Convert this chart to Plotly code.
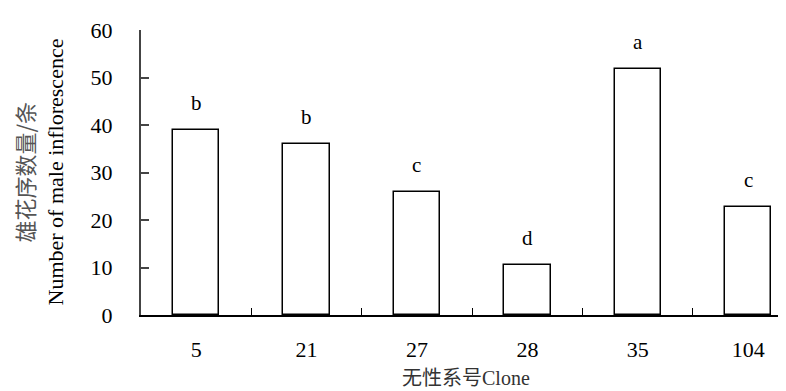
import plotly.graph_objects as go

clones = ["5", "21", "27", "28", "35", "104"]
counts = [39, 36.1, 25.8, 10.5, 51.8, 22.8]
letters = ["b", "b", "c", "d", "a", "c"]

serif = "Times New Roman"

fig = go.Figure()
fig.add_trace(go.Bar(
    x=clones, y=counts, width=0.42,
    marker=dict(color="white", line=dict(color="black", width=1.5)),
    showlegend=False, hoverinfo="x+y",
))

for i, (v, l) in enumerate(zip(counts, letters)):
    fig.add_annotation(x=i, y=v, text=l, showarrow=False, yshift=27,
                       font=dict(family=serif, size=21, color="black"))

fig.add_annotation(xref="paper", yref="paper", x=0, y=0.5, xshift=-118,
                   xanchor="center", yanchor="middle",
                   text="雄花序数量/条", textangle=-90, showarrow=False,
                   font=dict(family="Noto Sans CJK SC", size=22, color="#555"))
fig.add_annotation(xref="paper", yref="paper", x=0, y=0.5, xshift=-86,
                   xanchor="center", yanchor="middle",
                   text="Number of male inflorescence", textangle=-90, showarrow=False,
                   font=dict(family=serif, size=22, color="black"))
fig.add_annotation(xref="paper", yref="paper", x=0.497, y=0, yshift=-61,
                   xanchor="center", yanchor="middle",
                   text="无性系号<span style='font-family:Times New Roman'>Clone</span>",
                   showarrow=False,
                   font=dict(family="Noto Sans CJK SC", size=20, color="#333"))

fig.update_layout(
    width=786, height=391,
    margin=dict(l=133, r=0, t=22, b=84),
    plot_bgcolor="white", paper_bgcolor="white",
    font=dict(family=serif, size=21, color="black"),
    bargap=0,
)
fig.update_xaxes(
    type="category", range=[-0.5, 5.415],
    showline=True, linecolor="black", linewidth=1.5,
    ticks="inside", tickson="boundaries", ticklen=7, tickcolor="black", tickwidth=1.2,
    ticklabelstandoff=14, showgrid=False, zeroline=False,
    tickfont=dict(family=serif, size=22),
)
fig.update_yaxes(
    range=[0, 60], dtick=10,
    showline=True, linecolor="#444", linewidth=2,
    ticks="inside", ticklen=8, tickcolor="#444", tickwidth=1.5,
    ticklabelstandoff=22, showgrid=False, zeroline=False,
    tickfont=dict(family=serif, size=22),
)

fig.write_html("out.html")
